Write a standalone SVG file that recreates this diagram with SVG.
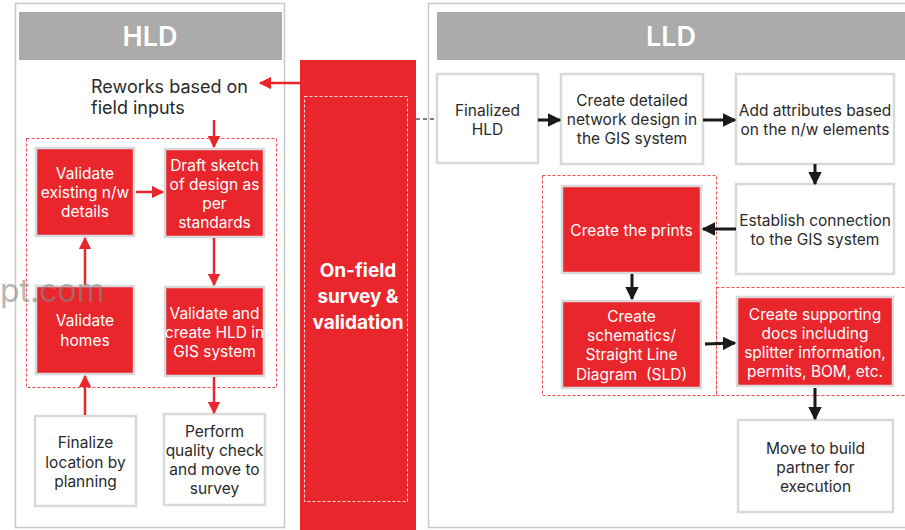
<svg xmlns="http://www.w3.org/2000/svg" width="905" height="530" viewBox="0 0 905 530">
<defs>
<style>
text{font-family:Inter,"Liberation Sans",sans-serif;}
.panel{fill:#fff;stroke:#c8c8c8;stroke-width:1.5}
.hdr{fill:#ababab}
.hdrt{fill:#fff;font-size:27px;font-weight:600;text-anchor:middle}
.rb{fill:#e9262c;stroke:#d9d9d9;stroke-width:2.5}
.wb{fill:#fff;stroke:#d9d9d9;stroke-width:2.5}
.wt{fill:#fff;font-size:15.5px;text-anchor:middle}
.dt{fill:#2a2a2a;font-size:15.5px;text-anchor:middle}
.rdash{fill:none;stroke:#ef4a4f;stroke-width:1;stroke-dasharray:3 2}
.ra{stroke:#e9262c;stroke-width:2.5;fill:none}
.ka{stroke:#1a1a1a;stroke-width:3;fill:none}
</style>
<marker id="mr" viewBox="0 0 10 10" refX="9" refY="5" markerWidth="5" markerHeight="5" markerUnits="strokeWidth" orient="auto"><path d="M0,0 L10,5 L0,10 z" fill="#e9262c"/></marker>
<marker id="mk" viewBox="0 0 10 10" refX="9" refY="5" markerWidth="4.5" markerHeight="4.5" markerUnits="strokeWidth" orient="auto"><path d="M0,0 L10,5 L0,10 z" fill="#1a1a1a"/></marker>
</defs>
<rect width="905" height="530" fill="#fff"/>

<g id="hld-panel">
<rect class="panel" x="15.5" y="3.5" width="269" height="524"/>
<rect class="hdr" x="19" y="12" width="263" height="48"/>
<text class="hdrt" x="150" y="46">HLD</text>
</g>
<g id="lld-panel">
<rect class="panel" x="428.5" y="3.5" width="480" height="524"/>
<rect class="hdr" x="437" y="12" width="468" height="48"/>
<text class="hdrt" x="671" y="46">LLD</text>
</g>

<g id="reworks">
<text x="91" y="93" fill="#2a2a2a" font-size="18">Reworks based on</text>
<text x="91" y="114" fill="#2a2a2a" font-size="18">field inputs</text>
</g>

<rect class="rdash" x="26.5" y="138.5" width="250" height="249"/>
<rect class="rdash" x="542.5" y="175.5" width="174" height="220"/>
<rect class="rdash" x="716.5" y="287.5" width="190" height="108"/>

<g id="onfield">
<rect x="300" y="60" width="116" height="470" fill="#e9262c"/>
<rect x="304.5" y="96.5" width="103" height="405" fill="none" stroke="#fff" stroke-width="1" stroke-dasharray="3 2" opacity="0.85"/>
<text x="358" y="277" fill="#fff" font-size="19" font-weight="700" text-anchor="middle">On-field</text>
<text x="358" y="303" fill="#fff" font-size="19" font-weight="700" text-anchor="middle">survey &amp;</text>
<text x="358" y="329" fill="#fff" font-size="19" font-weight="700" text-anchor="middle">validation</text>
</g>

<g id="validate-existing">
<rect class="rb" x="36" y="148" width="98" height="88"/>
<text class="wt" x="85" y="179">Validate</text>
<text class="wt" x="85" y="198">existing n/w</text>
<text class="wt" x="85" y="217">details</text>
</g>
<g id="draft-sketch">
<rect class="rb" x="165" y="149" width="99" height="88"/>
<text class="wt" x="214.5" y="171">Draft sketch</text>
<text class="wt" x="214.5" y="190">of design as</text>
<text class="wt" x="214.5" y="209">per</text>
<text class="wt" x="214.5" y="228">standards</text>
</g>
<g id="validate-homes">
<rect class="rb" x="36" y="286" width="98" height="88"/>
<text class="wt" x="85" y="326">Validate</text>
<text class="wt" x="85" y="346">homes</text>
</g>
<g id="validate-create">
<rect class="rb" x="165" y="287" width="99" height="89"/>
<text class="wt" x="214.5" y="319">Validate and</text>
<text class="wt" x="214.5" y="338">create HLD in</text>
<text class="wt" x="214.5" y="357">GIS system</text>
</g>
<g id="finalize-location">
<rect class="wb" x="35" y="416" width="101" height="90"/>
<text class="dt" x="85.5" y="448">Finalize</text>
<text class="dt" x="85.5" y="468">location by</text>
<text class="dt" x="85.5" y="487">planning</text>
</g>
<g id="perform-quality">
<rect class="wb" x="164" y="414" width="101" height="91"/>
<text class="dt" x="214.5" y="437">Perform</text>
<text class="dt" x="214.5" y="456">quality check</text>
<text class="dt" x="214.5" y="475">and move to</text>
<text class="dt" x="214.5" y="494">survey</text>
</g>

<g id="finalized-hld">
<rect class="wb" x="437" y="74" width="101" height="89"/>
<text class="dt" x="487.5" y="116">Finalized</text>
<text class="dt" x="487.5" y="135">HLD</text>
</g>
<g id="create-detailed">
<rect class="wb" x="561" y="74" width="142" height="90"/>
<text class="dt" x="632" y="106">Create detailed</text>
<text class="dt" x="632" y="125">network design in</text>
<text class="dt" x="632" y="144">the GIS system</text>
</g>
<g id="add-attributes">
<rect class="wb" x="736" y="74" width="158" height="90"/>
<text class="dt" x="815" y="116">Add attributes based</text>
<text class="dt" x="815" y="135">on the n/w elements</text>
</g>
<g id="establish">
<rect class="wb" x="736" y="184" width="158" height="90"/>
<text class="dt" x="815" y="226">Establish connection</text>
<text class="dt" x="815" y="245">to the GIS system</text>
</g>
<g id="create-prints">
<rect class="rb" x="562" y="186" width="139" height="87"/>
<text class="wt" x="631.5" y="236">Create the prints</text>
</g>
<g id="create-schematics">
<rect class="rb" x="562" y="301" width="139" height="87"/>
<text class="wt" x="631.5" y="322">Create</text>
<text class="wt" x="631.5" y="341">schematics/</text>
<text class="wt" x="631.5" y="360">Straight Line</text>
<text class="wt" x="631.5" y="380" style="white-space:pre">Diagram  (SLD)</text>
</g>
<g id="create-supporting">
<rect class="rb" x="737" y="297" width="156" height="89"/>
<text class="wt" x="815" y="320">Create supporting</text>
<text class="wt" x="815" y="339">docs including</text>
<text class="wt" x="815" y="358">splitter information,</text>
<text class="wt" x="815" y="377">permits, BOM, etc.</text>
</g>
<g id="move-build">
<rect class="wb" x="738" y="420" width="155" height="92"/>
<text class="dt" x="815.5" y="454">Move to build</text>
<text class="dt" x="815.5" y="473">partner for</text>
<text class="dt" x="815.5" y="492">execution</text>
</g>

<g id="connectors">
<path class="ra" d="M300,83 L260,83" marker-end="url(#mr)"/>
<path class="ra" d="M214,120 L214,147" marker-end="url(#mr)"/>
<path class="ra" d="M136,192 L163,192" marker-end="url(#mr)"/>
<path class="ra" d="M214,238 L214,285" marker-end="url(#mr)"/>
<path class="ra" d="M85,285 L85,238" marker-end="url(#mr)"/>
<path class="ra" d="M85,415 L85,376" marker-end="url(#mr)"/>
<path class="ra" d="M214,377 L214,413" marker-end="url(#mr)"/>
<path d="M416,119 L437,119" stroke="#555" stroke-width="1.5" stroke-dasharray="4 3" fill="none"/>
<path class="ka" d="M538,120 L560,120" marker-end="url(#mk)"/>
<path class="ka" d="M703,120 L735,120" marker-end="url(#mk)"/>
<path class="ka" d="M815,164 L815,184" marker-end="url(#mk)"/>
<path class="ka" d="M736,229 L703,229" marker-end="url(#mk)"/>
<path class="ka" d="M632,274 L632,299" marker-end="url(#mk)"/>
<path class="ka" d="M705,344 L735,343" marker-end="url(#mk)"/>
<path class="ka" d="M815,388 L815,419" marker-end="url(#mk)"/>
</g>

<text x="0" y="302" fill="#888" font-size="32" opacity="0.6">pt.com</text>
</svg>
